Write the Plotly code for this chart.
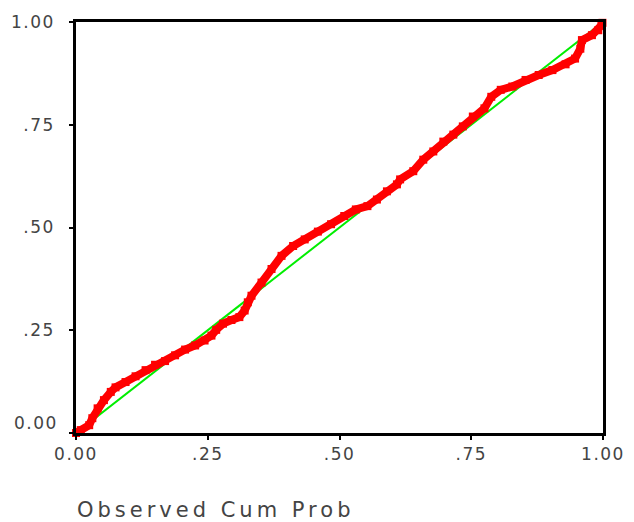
import plotly.graph_objects as go

# Observed cumulative probability (x) vs expected cumulative probability (y)
observed_cum_prob = [0.000, 0.009, 0.025, 0.031, 0.041, 0.053, 0.066, 0.075, 0.094, 0.113,
                     0.132, 0.150, 0.169, 0.188, 0.207, 0.226, 0.244, 0.257, 0.266, 0.279,
                     0.295, 0.310, 0.320, 0.326, 0.333, 0.352, 0.371, 0.390, 0.412, 0.434,
                     0.459, 0.484, 0.509, 0.531, 0.553, 0.571, 0.590, 0.609, 0.615, 0.640,
                     0.659, 0.678, 0.697, 0.716, 0.734, 0.753, 0.775, 0.788, 0.806, 0.828,
                     0.853, 0.878, 0.904, 0.929, 0.947, 0.957, 0.960, 0.979, 0.991, 0.997, 0.999]
expected_cum_prob = [0.000, 0.007, 0.019, 0.036, 0.060, 0.080, 0.100, 0.111, 0.124, 0.138,
                     0.153, 0.166, 0.175, 0.189, 0.203, 0.213, 0.225, 0.237, 0.251, 0.266,
                     0.275, 0.282, 0.298, 0.318, 0.334, 0.366, 0.399, 0.431, 0.455, 0.471,
                     0.490, 0.508, 0.528, 0.544, 0.552, 0.568, 0.588, 0.605, 0.617, 0.637,
                     0.665, 0.685, 0.709, 0.726, 0.746, 0.770, 0.790, 0.818, 0.835, 0.843,
                     0.859, 0.871, 0.883, 0.897, 0.911, 0.935, 0.956, 0.968, 0.980, 0.992, 0.998]

reference_x = [0.0, 1.0]
reference_y = [0.0, 1.0]

tick_vals = [0.0, 0.25, 0.5, 0.75, 1.0]
x_tick_text = ["0.00", ".25", ".50", ".75", "1.00"]
y_tick_text = ["", ".25", ".50", ".75", "1.00"]

font_family = "DejaVu Sans"
text_color = "#444444"

fig = go.Figure()
fig.add_trace(go.Scatter(x=reference_x, y=reference_y, mode="lines",
                         line=dict(color="#00ee00", width=2), hoverinfo="skip",
                         showlegend=False))
fig.add_trace(go.Scatter(x=observed_cum_prob, y=expected_cum_prob, mode="lines+markers",
                         line=dict(color="#ff0000", width=8),
                         marker=dict(symbol="square", size=8, color="#ff0000"),
                         cliponaxis=False, showlegend=False))

axis_common = dict(range=[0, 1], showgrid=False, zeroline=False,
                   showline=True, linecolor="black", linewidth=2.5, mirror=True,
                   ticks="outside", ticklen=4, tickwidth=2, tickcolor="black",
                   tickvals=tick_vals,
                   tickfont=dict(family=font_family, size=17, color=text_color))

fig.update_xaxes(**axis_common, ticktext=x_tick_text)
fig.update_yaxes(**axis_common, ticktext=y_tick_text, ticklabelstandoff=11)

fig.add_annotation(text="0.00", xref="paper", yref="paper", x=-0.036, y=10 / 413,
                   xanchor="right", yanchor="middle", showarrow=False,
                   font=dict(family=font_family, size=17, color=text_color))
fig.add_annotation(text="Observed Cum Prob", xref="paper", yref="paper",
                   x=(216.5 - 76) / 531, y=-77 / 413, xanchor="center", yanchor="middle",
                   showarrow=False,
                   font=dict(family=font_family, size=21, color=text_color))

fig.update_layout(width=634, height=522, margin=dict(l=76, r=27, t=20, b=89),
                  plot_bgcolor="white", paper_bgcolor="white")

post = """
document.body.style.margin = '0';
document.querySelectorAll('.xtick text, .ytick text').forEach(function(t){ t.style.letterSpacing = '1.5px'; });
document.querySelectorAll('.annotation-text').forEach(function(t){
  t.style.letterSpacing = (t.textContent.length > 6) ? '4px' : '1.5px';
});
"""

fig.write_html("out.html", post_script=post, config={"displayModeBar": False})
